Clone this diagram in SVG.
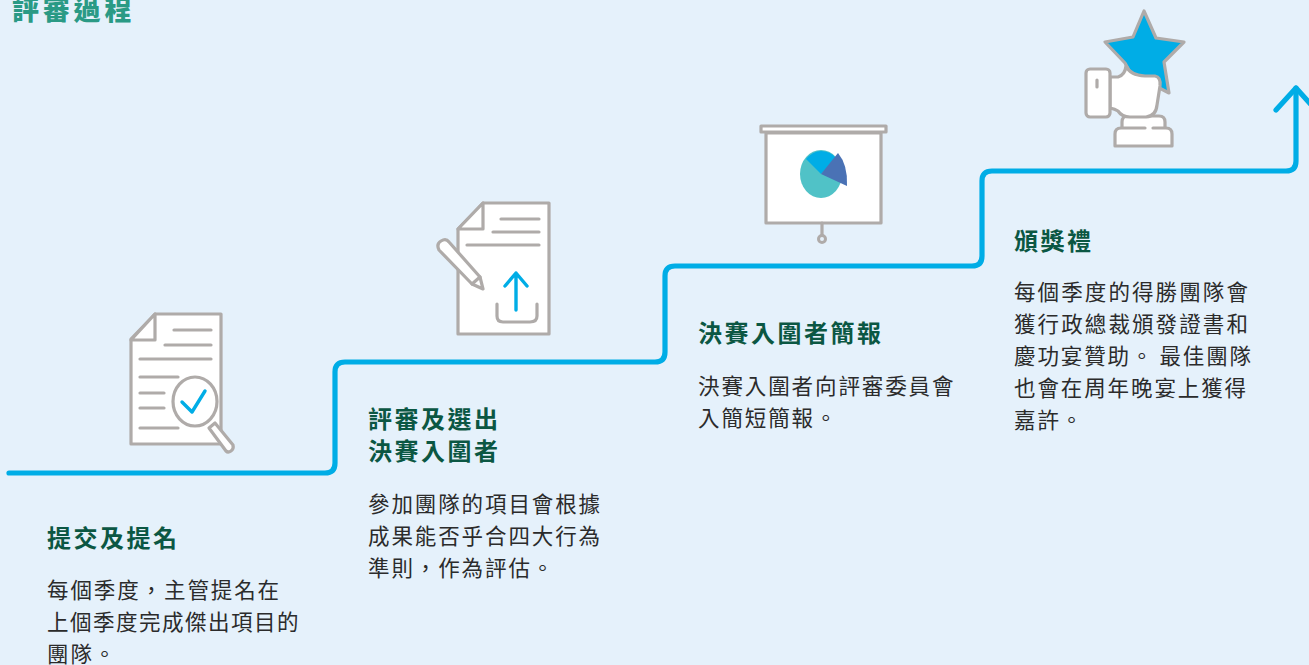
<svg xmlns="http://www.w3.org/2000/svg" width="1309" height="665" viewBox="0 0 1309 665">
<style>
text{font-family:"Noto Sans CJK TC","Noto Sans CJK SC",sans-serif}
.t{font-size:27px;font-weight:900;fill:#2a9a85;letter-spacing:3.800px}
.h{font-size:24px;font-weight:700;fill:#0b5743;letter-spacing:2.5px}
.b{font-size:21.5px;fill:#2b2b2b;letter-spacing:1.9px}
.g{fill:none;stroke:#afaba9;stroke-width:3.2;stroke-linecap:round;stroke-linejoin:round}
.w{fill:#fff;stroke:#afaba9;stroke-width:3.2;stroke-linejoin:round;stroke-linecap:round}
.c{fill:none;stroke:#00ade6;stroke-width:3.4;stroke-linecap:round;stroke-linejoin:round}
</style>
<rect width="1309" height="665" fill="#e5f1fb"/>
<text class="t" x="12" y="20">評審過程</text>
<g id="connectors">
<path d="M9 473H325Q335 473 335 463V372Q335 362 345 362H655Q665 362 665 352V276Q665 266 675 266H972Q982 266 982 256V181Q982 171 992 171H1286Q1296 171 1296 161V88" fill="none" stroke="#00ade6" stroke-width="5.200" stroke-linecap="round"/>
<path d="M1276 110L1296 88L1316 110" fill="none" stroke="#00ade6" stroke-width="5.200" stroke-linecap="round" stroke-linejoin="round"/>
</g>
<g id="node-1">
<path class="w" d="M155 314H221V444H131V339Z"/>
<path class="w" d="M155 314V340H131Z"/>
<path class="g" d="M174 330H211M165 345H211M140 359H211M140 377H178M140 393H164M140 408H164M140 428H178"/>
<path class="w" d="M215 423L233 445Q234 449 231 451Q228 453 226 451L209 428Z"/>
<ellipse class="w" cx="195" cy="401.500" rx="22" ry="24.500"/>
<path class="c" d="M182 402L192 412L205 391"/>
<text class="h" x="47" y="547">提交及提名</text>
<text class="b" x="47" y="598">每個季度，主管提名在</text>
<text class="b" x="47" y="630" style="letter-spacing:1.5px">上個季度完成傑出項目的</text>
<text class="b" x="47" y="662">團隊。</text>
</g>
<g id="node-2">
<path class="w" d="M483 203H549V334H458V229Z"/>
<path class="w" d="M483 203V229H458Z"/>
<path class="g" d="M501 219H539M493 232H539M467 245H539"/>
<path class="g" d="M497 304V316Q497 322 503 322H530Q537 322 537 316V304"/>
<path class="c" d="M516 310V273M505 286L516 273L527 286"/>
<path class="w" d="M439 250Q436 244 441 241Q446 238 449 242L480 277L483 289L472 284Z"/>
<path class="g" d="M472 284L480 277"/>
<text class="h" x="368" y="428">評審及選出</text>
<text class="h" x="368" y="460">決賽入圍者</text>
<text class="b" x="368" y="512">參加團隊的項目會根據</text>
<text class="b" x="368" y="544">成果能否乎合四大行為</text>
<text class="b" x="368" y="576">準則，作為評估。</text>
</g>
<g id="node-3">
<rect class="w" x="766" y="133" width="115" height="90"/>
<rect class="w" x="761" y="126" width="125" height="6"/>
<path class="g" d="M822 223V236"/>
<circle cx="822" cy="239" r="3.500" fill="#e5f1fb" stroke="#afaba9" stroke-width="3"/>
<ellipse cx="821" cy="174" rx="21" ry="24" fill="#50c2c7"/>
<path d="M806 159Q813 151 821 151Q830 151 836 158L821 174Z" fill="#00ade6"/>
<path d="M821 174L838 153Q848 165 847 186Z" fill="#4a72b5"/>
<text class="h" x="698" y="342">決賽入圍者簡報</text>
<text class="b" x="698" y="394">決賽入圍者向評審委員會</text>
<text class="b" x="698" y="426">入簡短簡報。</text>
</g>
<g id="node-4">
<path d="M1144 11L1156 38L1184 42L1164 62L1169 93L1144 80L1130 72L1125 63L1105 42L1133 37Z" fill="#00ade6" stroke="#afaba9" stroke-width="3.200" stroke-linejoin="round"/>
<path class="w" d="M1122 134V122Q1122 116 1128 116H1159Q1165 116 1165 122V134"/>
<path d="M1115 146V134Q1115 128 1121 128H1166Q1172 128 1172 134V146Z" fill="#fff"/>
<path class="g" d="M1145 128H1121Q1115 128 1115 134V146H1172V134Q1172 128 1166 128H1153"/>
<path class="w" d="M1110 77H1118Q1125 75 1126 66Q1130 75 1145 76H1155Q1161 77 1160 86L1157 105Q1156 116 1146 117H1130Q1122 117 1118 111Q1115 109 1110 108Z"/>
<rect class="w" x="1086" y="69" width="24" height="48" rx="4"/>
<path class="g" d="M1097 80V87" stroke-width="2.500"/>
<text class="h" x="1014" y="250">頒獎禮</text>
<text class="b" x="1014" y="300" style="letter-spacing:2.1px">每個季度的得勝團隊會</text>
<text class="b" x="1014" y="332" style="letter-spacing:2.1px">獲行政總裁頒發證書和</text>
<text class="b" x="1014" y="364">慶功宴贊助。<tspan dx="5">最佳團隊</tspan></text>
<text class="b" x="1014" y="396">也會在周年晚宴上獲得</text>
<text class="b" x="1014" y="428">嘉許。</text>
</g>
</svg>
